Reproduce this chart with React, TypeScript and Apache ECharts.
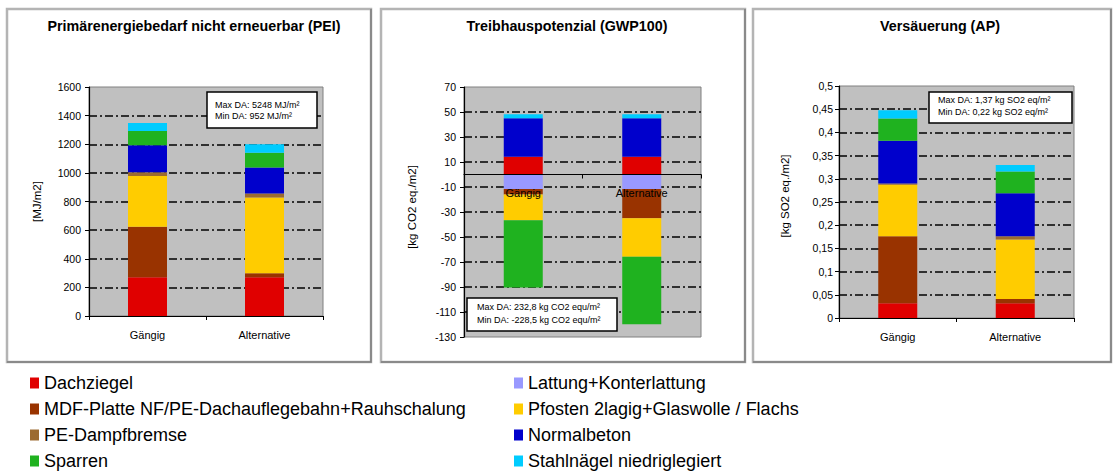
import React, { useEffect, useRef } from 'react';
import * as echarts from 'echarts';

const categories = ['Gängig', 'Alternative'];

const seriesNames = [
  'Dachziegel',
  'Lattung+Konterlattung',
  'MDF-Platte NF/PE-Dachauflegebahn+Rauhschalung',
  'Pfosten 2lagig+Glaswolle / Flachs',
  'PE-Dampfbremse',
  'Normalbeton',
  'Sparren',
  'Stahlnägel niedriglegiert',
];

// values per series: [Gängig, Alternative]
const peiValues = [
  [270, 270],
  [0, 0],
  [353, 28],
  [356, 530],
  [26, 28],
  [188, 181],
  [100, 103],
  [56, 60],
];

const gwpValues = [
  [14.3, 14.3],
  [-11.5, -11.5],
  [-4.5, -23.5],
  [-20.5, -30.8],
  [0, 0],
  [30.7, 30.7],
  [-53.8, -53.9],
  [3.2, 3.2],
];

const apValues = [
  [0.032, 0.032],
  [0, 0],
  [0.144, 0.009],
  [0.111, 0.128],
  [0.003, 0.007],
  [0.092, 0.093],
  [0.048, 0.047],
  [0.018, 0.014],
];

const panelTitles = [
  'Primärenergiebedarf nicht erneuerbar (PEI)',
  'Treibhauspotenzial (GWP100)',
  'Versäuerung (AP)',
];
const axisNames = ['[MJ/m2]', '[kg CO2 eq./m2]', '[kg SO2 eq./m2]'];
const axisMin = [0, -130, 0];
const axisMax = [1600, 70, 0.5];
const axisInterval = [200, 20, 0.05];
const boxLines = [
  ['Max DA: 5248 MJ/m²', 'Min DA: 952 MJ/m²'],
  ['Max DA: 232,8 kg CO2 equ/m²', 'Min DA: -228,5 kg CO2 equ/m²'],
  ['Max DA: 1,37 kg SO2 eq/m²', 'Min DA: 0,22 kg SO2 eq/m²'],
];

const colors = ['#e00000', '#9999ff', '#993300', '#ffcc00', '#9c6b30', '#0000cc', '#1fb21f', '#00ccff'];

const FONT = '"Liberation Sans", Arial, sans-serif';

const grids = [
  { left: 89, top: 87, width: 234, height: 229 },
  { left: 464, top: 87, width: 237, height: 250 },
  { left: 839, top: 86, width: 235, height: 232 },
];
const titleCenters = [194, 567, 940];
const nameGaps = [46, 46, 48];
const namePads = [[0, 0, 0, 0], [0, 0, 0, 10], [0, 0, 0, 12]];
const labelMargins = [8, 8, 6];
const panels = [
  { x: 7, y: 9, w: 364, h: 353 },
  { x: 381, y: 9, w: 364, h: 353 },
  { x: 753, y: 9, w: 358, h: 353 },
];
const boxes = [
  { x: 207, y: 92, w: 110, h: 36, tx: 215, ty: [100.5, 111.5] },
  { x: 467, y: 298, w: 150, h: 33, tx: 477, ty: [302.5, 315.5] },
  { x: 929, y: 92, w: 143, h: 31, tx: 938, ty: [95.5, 107.5] },
];

export default function App() {
  const ref = useRef<HTMLDivElement>(null);
  useEffect(() => {
    if (!ref.current) return;
    const chart = echarts.init(ref.current, null, { renderer: 'svg' });
    const allValues = [peiValues, gwpValues, apValues];

    const series: any[] = [];
    allValues.forEach((vals, p) => {
      vals.forEach((d, i) => {
        series.push({
          type: 'bar',
          name: seriesNames[i],
          xAxisIndex: p,
          yAxisIndex: p,
          stack: 'panel' + p,
          data: d,
          barWidth: 39,
          itemStyle: { color: colors[i] },
        });
      });
    });

    const graphic: any[] = [];
    panels.forEach((r) => {
      graphic.push({
        type: 'rect',
        z: -1,
        shape: { x: r.x, y: r.y, width: r.w, height: r.h },
        style: { fill: 'none', stroke: '#b4b4b4', lineWidth: 2.5 },
      });
      graphic.push({
        type: 'polyline',
        z: -1,
        shape: { points: [[r.x + r.w, r.y], [r.x + r.w, r.y + r.h], [r.x, r.y + r.h]] },
        style: { fill: 'none', stroke: '#7c7c7c', lineWidth: 1.5 },
      });
    });
    boxes.forEach((b, p) => {
      graphic.push({
        type: 'rect',
        z: 100,
        shape: { x: b.x, y: b.y, width: b.w, height: b.h },
        style: { fill: '#ffffff', stroke: '#000', lineWidth: 1.5 },
      });
      boxLines[p].forEach((t, k) => {
        graphic.push({
          type: 'text',
          z: 101,
          x: b.tx,
          y: b.ty[k],
          style: { text: t, font: `9px ${FONT}`, fill: '#000' },
        });
      });
    });

    // offset that places each category axis at value 0 of its value axis
    const zeroOffsets = grids.map((g, p) => {
      const zeroFromTop = (axisMax[p] / (axisMax[p] - axisMin[p])) * g.height;
      return -(g.height - zeroFromTop);
    });

    const option: any = {
      animation: false,
      backgroundColor: '#ffffff',
      title: panelTitles.map((t, p) => ({
        text: t,
        left: titleCenters[p],
        top: 19,
        textAlign: 'center',
        padding: 0,
        textStyle: { fontFamily: FONT, fontSize: 14.3, fontWeight: 'bold', color: '#000' },
      })),
      legend: [
        {
          data: [seriesNames[0], seriesNames[2], seriesNames[4], seriesNames[6]],
          orient: 'vertical',
          left: 30,
          top: 374,
          padding: 0,
          itemWidth: 9,
          itemHeight: 11,
          itemGap: 8,
          icon: 'rect',
          selectedMode: false,
          textStyle: { fontFamily: FONT, fontSize: 18, color: '#000' },
        },
        {
          data: [seriesNames[1], seriesNames[3], seriesNames[5], seriesNames[7]],
          orient: 'vertical',
          left: 514,
          top: 374,
          padding: 0,
          itemWidth: 9,
          itemHeight: 11,
          itemGap: 8,
          icon: 'rect',
          selectedMode: false,
          textStyle: { fontFamily: FONT, fontSize: 18, color: '#000' },
        },
      ],
      grid: grids.map((g) => ({
        ...g,
        show: true,
        backgroundColor: '#c0c0c0',
        borderColor: '#808080',
        borderWidth: 1,
        containLabel: false,
      })),
      xAxis: grids.map((_, p) => ({
        type: 'category',
        gridIndex: p,
        data: categories,
        position: 'bottom',
        offset: zeroOffsets[p],
        z: 5,
        axisLine: { onZero: false, lineStyle: { color: '#000', width: 1.2 } },
        axisTick: { show: true, length: 4, lineStyle: { color: '#000' } },
        axisLabel: { margin: 13, fontFamily: FONT, fontSize: 11, color: '#000' },
        splitLine: { show: false },
      })),
      yAxis: grids.map((_, p) => ({
        type: 'value',
        gridIndex: p,
        min: axisMin[p],
        max: axisMax[p],
        interval: axisInterval[p],
        name: axisNames[p],
        nameLocation: 'middle',
        nameRotate: 90,
        nameGap: nameGaps[p],
        nameTextStyle: { fontFamily: FONT, fontSize: 11.5, color: '#000', padding: namePads[p] },
        axisLine: { show: true, onZero: false, lineStyle: { color: '#000', width: 1.2 } },
        axisTick: { show: true, length: 4, lineStyle: { color: '#000' } },
        axisLabel: {
          margin: labelMargins[p],
          fontFamily: FONT,
          fontSize: 10.5,
          color: '#000',
          formatter: (v: number) => String(Math.round(v * 100) / 100).replace('.', ','),
        },
        splitLine: {
          show: true,
          showMinLine: false,
          showMaxLine: false,
          lineStyle: { color: '#000', width: 1.5, type: [8, 3, 2, 3] },
        },
      })),
      series,
      graphic,
    };
    chart.setOption(option);
    return () => chart.dispose();
  }, []);
  return (
    <div
      ref={ref}
      style={{ position: 'absolute', left: 0, top: 0, width: 1114, height: 472, background: '#fff' }}
    />
  );
}
